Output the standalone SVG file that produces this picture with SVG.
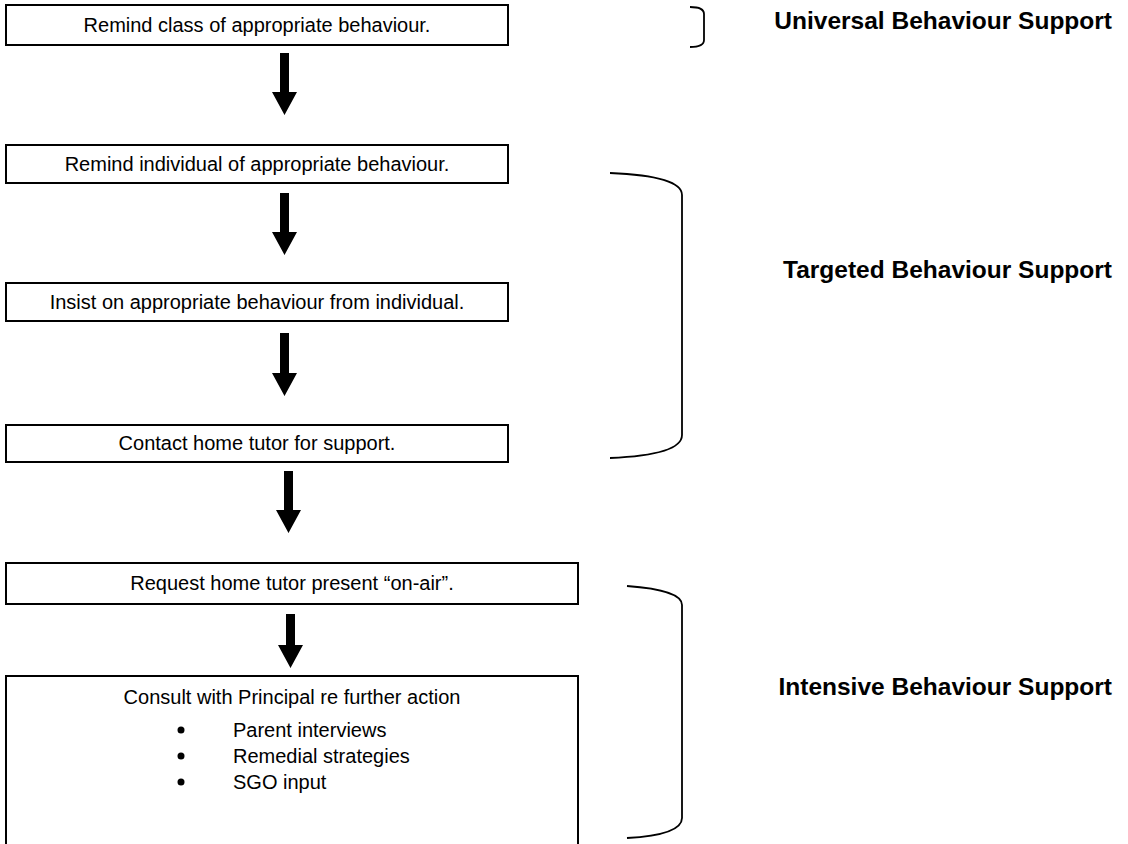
<svg xmlns="http://www.w3.org/2000/svg" width="1128" height="844" viewBox="0 0 1128 844">
<style>
.box{fill:#fff;stroke:#000;stroke-width:2}
.t{font-family:"Liberation Sans",Arial,sans-serif;font-size:20px;fill:#000}
.c{text-anchor:middle}
.lbl{font-family:"Liberation Sans",Arial,sans-serif;font-size:24.5px;font-weight:bold;fill:#000;text-anchor:end}
.br{fill:none;stroke:#000;stroke-width:1.8}
.ar{fill:#000}
</style>
<rect width="1128" height="844" fill="#fff"/>
<g id="n1"><rect class="box" x="6" y="5" width="502" height="40"/><text class="t c" x="257" y="32">Remind class of appropriate behaviour.</text></g>
<g id="n2"><rect class="box" x="6" y="145" width="502" height="38"/><text class="t c" x="257" y="171">Remind individual of appropriate behaviour.</text></g>
<g id="n3"><rect class="box" x="6" y="283" width="502" height="38"/><text class="t c" x="257" y="309">Insist on appropriate behaviour from individual.</text></g>
<g id="n4"><rect class="box" x="6" y="425" width="502" height="37"/><text class="t c" x="257" y="450">Contact home tutor for support.</text></g>
<g id="n5"><rect class="box" x="6" y="563" width="572" height="41"/><text class="t c" x="292" y="590">Request home tutor present “on-air”.</text></g>
<g id="n6"><rect class="box" x="6" y="676" width="572" height="180"/>
<text class="t c" x="292" y="704">Consult with Principal re further action</text>
<circle cx="181" cy="730" r="3.5"/><text class="t" x="233" y="737">Parent interviews</text>
<circle cx="181" cy="756" r="3.5"/><text class="t" x="233" y="763">Remedial strategies</text>
<circle cx="181" cy="782" r="3.5"/><text class="t" x="233" y="789">SGO input</text>
</g>
<g id="connectors">
<polygon class="ar" points="280,53 289,53 289,92 297,92 284.5,115 272,92 280,92"/>
<polygon class="ar" points="280,193 289,193 289,232 297,232 284.5,255 272,232 280,232"/>
<polygon class="ar" points="280,333 289,333 289,373 297,373 284.5,396 272,373 280,373"/>
<polygon class="ar" points="284,471 293,471 293,510 301,510 288.5,533 276,510 284,510"/>
<polygon class="ar" points="286,614 295,614 295,645 303,645 290.5,668 278,645 286,645"/>
</g>
<g id="brackets">
<path class="br" d="M690,7 Q704,7 704,14 L704,40 Q704,47 690,47"/>
<path class="br" d="M610,173 Q682,176 682,195 L682,435 Q682,455 610,458"/>
<path class="br" d="M627,586 Q682,590 682,605 L682,818 Q682,835 627,838"/>
</g>
<g id="labels">
<text class="lbl" x="1112" y="29">Universal Behaviour Support</text>
<text class="lbl" x="1112" y="278">Targeted Behaviour Support</text>
<text class="lbl" x="1112" y="695">Intensive Behaviour Support</text>
</g>
</svg>
